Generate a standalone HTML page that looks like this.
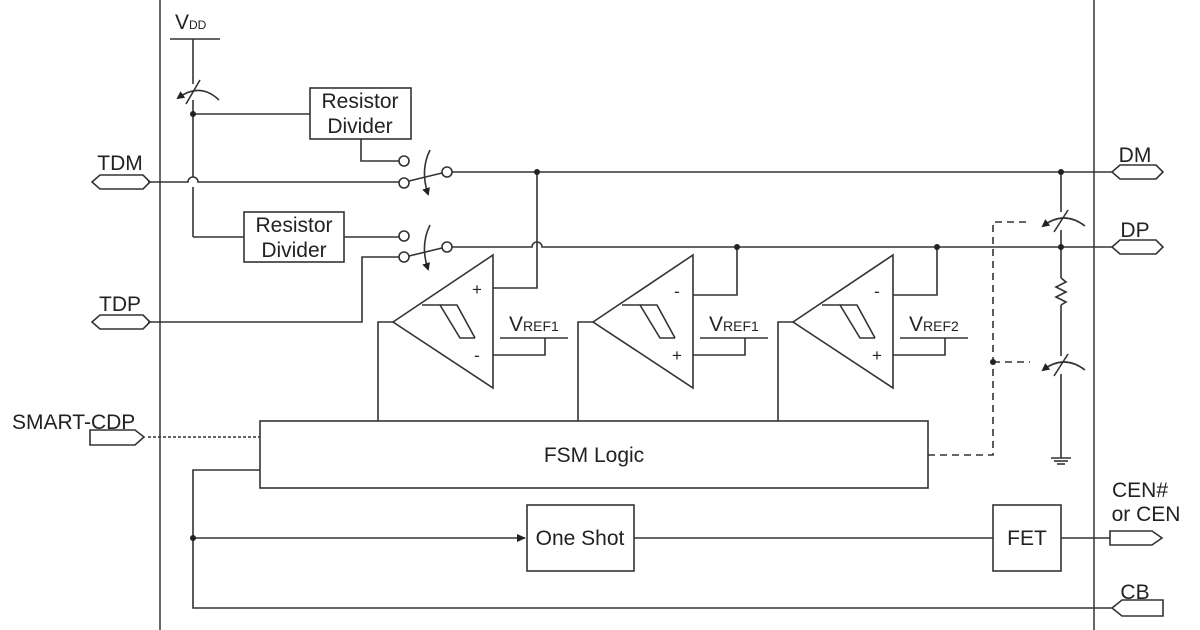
<!DOCTYPE html>
<html><head><meta charset="utf-8"><style>
html,body{margin:0;padding:0;background:#fff;width:1200px;height:630px;overflow:hidden}
svg{display:block}
text{font-family:"Liberation Sans",Arial,sans-serif;fill:#222}
</style></head><body>
<svg width="1200" height="630" viewBox="0 0 1200 630" xmlns="http://www.w3.org/2000/svg">
<defs>
<marker id="ar" markerWidth="10" markerHeight="10" refX="8" refY="5" orient="auto" markerUnits="userSpaceOnUse"><path d="M0,1 L9,5 L0,9 Z" fill="#222"/></marker>
<marker id="ar2" markerWidth="10" markerHeight="10" refX="6" refY="5" orient="auto" markerUnits="userSpaceOnUse"><path d="M0,1 L8,5 L0,9 Z" fill="#222"/></marker>
</defs>
<g stroke="#333" stroke-width="1.6" fill="none">
<line x1="160" y1="0" x2="160" y2="630" stroke="#444"/>
<line x1="1094" y1="0" x2="1094" y2="630" stroke="#666" stroke-width="2"/>
<line x1="170" y1="39" x2="220" y2="39"/>
<line x1="193" y1="39" x2="193" y2="84"/>
<line x1="193" y1="100" x2="193" y2="177"/>
<line x1="193" y1="187" x2="193" y2="237"/>
<line x1="193" y1="237" x2="244" y2="237"/>
<line x1="193" y1="114" x2="310" y2="114"/>
<line x1="186" y1="104" x2="200" y2="80"/>
<path d="M219,100 Q200,82 178,98" marker-end="url(#ar2)"/>
<rect x="310" y="88" width="101" height="51"/>
<rect x="244" y="212" width="100" height="50"/>
<polyline points="361,139 361,161 399,161"/>
<line x1="344" y1="237" x2="399" y2="237"/>
<path d="M148,182 L188,182 A5,5 0 0 1 198,182 L399,182"/>
<polyline points="148,322 362,322 362,257 399,257"/>
<line x1="409" y1="181" x2="442" y2="173"/>
<line x1="409" y1="256" x2="442" y2="248"/>
<path d="M430,150 Q420,170 428,194" marker-end="url(#ar2)"/>
<path d="M430,225 Q420,245 428,269" marker-end="url(#ar2)"/>
<line x1="452" y1="172" x2="1112" y2="172"/>
<path d="M452,247 L532,247 A5,5 0 0 1 542,247 L1112,247"/>
<polygon points="393,322 493,255 493,388"/>
<polygon points="593,322 693,255 693,388"/>
<polygon points="793,322 893,255 893,388"/>
<polyline points="422,305 440,305 460,338 475,338"/><polyline points="440,305 457,305 475,338"/>
<polyline points="622,305 640,305 660,338 675,338"/><polyline points="640,305 657,305 675,338"/>
<polyline points="822,305 840,305 860,338 875,338"/><polyline points="840,305 857,305 875,338"/>
<polyline points="493,288 537,288 537,172"/>
<polyline points="493,355 545,355 545,338"/>
<line x1="500" y1="338" x2="568" y2="338"/>
<polyline points="693,295 737,295 737,247"/>
<polyline points="693,355 745,355 745,338"/>
<line x1="700" y1="338" x2="768" y2="338"/>
<polyline points="893,295 937,295 937,247"/>
<polyline points="893,355 945,355 945,338"/>
<line x1="900" y1="338" x2="968" y2="338"/>
<polyline points="393,322 378,322 378,421"/>
<polyline points="593,322 578,322 578,421"/>
<polyline points="793,322 778,322 778,421"/>
<rect x="260" y="421" width="668" height="67"/>
<line x1="1061" y1="172" x2="1061" y2="212"/>
<line x1="1054" y1="232" x2="1068" y2="210"/>
<path d="M1085,226 Q1064,210 1043,226" marker-end="url(#ar2)"/>
<line x1="1061" y1="230" x2="1061" y2="278"/>
<polyline points="1061,278 1066,282 1056,287 1066,292 1056,297 1066,302 1061,305"/>
<line x1="1061" y1="305" x2="1061" y2="356"/>
<line x1="1054" y1="376" x2="1068" y2="354"/>
<path d="M1085,370 Q1064,354 1043,370" marker-end="url(#ar2)"/>
<line x1="1061" y1="374" x2="1061" y2="458"/>
<line x1="1051" y1="458" x2="1071" y2="458"/>
<line x1="1054" y1="461" x2="1068" y2="461"/>
<line x1="1057" y1="464" x2="1065" y2="464"/>
<polyline points="260,470 193,470 193,608 1112,608"/>
<line x1="193" y1="538" x2="525" y2="538" marker-end="url(#ar)"/>
<rect x="527" y="505" width="107" height="66"/>
<line x1="634" y1="538" x2="993" y2="538"/>
<rect x="993" y="505" width="68" height="66"/>
<line x1="1061" y1="538" x2="1110" y2="538"/>
<polygon points="92,182 100,175 143,175 150,182 143,189 100,189"/>
<polygon points="92,322 100,315 143,315 150,322 143,329 100,329"/>
<polygon points="1112,172 1120,165 1156,165 1163,172 1156,179 1120,179"/>
<polygon points="1112,247 1120,240 1156,240 1163,247 1156,254 1120,254"/>
<polygon points="90,430 135,430 144,437 135,445 90,445"/>
<polygon points="1110,531 1152,531 1162,538 1152,545 1110,545"/>
<polygon points="1112,608 1122,600 1163,600 1163,616 1122,616"/>
</g>
<g stroke="#333" stroke-width="1.6" fill="none" stroke-dasharray="7,5">
<line x1="148" y1="437" x2="260" y2="437" stroke-dasharray="3,2"/>
<polyline points="928,455 993,455 993,222 1030,222"/>
<line x1="993" y1="362" x2="1030" y2="362"/>
</g>
<g stroke="#333" stroke-width="1.6" fill="#fff">
<circle cx="404" cy="161" r="5"/><circle cx="404" cy="183" r="5"/><circle cx="447" cy="172" r="5"/>
<circle cx="404" cy="236" r="5"/><circle cx="404" cy="257" r="5"/><circle cx="447" cy="247" r="5"/>
</g>
<g fill="#222">
<circle cx="193" cy="114" r="3"/><circle cx="537" cy="172" r="3"/><circle cx="1061" cy="172" r="3"/>
<circle cx="737" cy="247" r="3"/><circle cx="937" cy="247" r="3"/><circle cx="1061" cy="247" r="3"/>
<circle cx="993" cy="362" r="3"/><circle cx="193" cy="538" r="3"/>
</g>
<g font-size="21">
<text x="175" y="29">V<tspan font-size="12">DD</tspan></text>
<text x="360" y="108" text-anchor="middle">Resistor</text>
<text x="360" y="133" text-anchor="middle">Divider</text>
<text x="294" y="232" text-anchor="middle">Resistor</text>
<text x="294" y="257" text-anchor="middle">Divider</text>
<text x="120" y="170" text-anchor="middle">TDM</text>
<text x="120" y="311" text-anchor="middle">TDP</text>
<text x="12" y="429">SMART-CDP</text>
<text x="1135" y="162" text-anchor="middle">DM</text>
<text x="1135" y="237" text-anchor="middle">DP</text>
<text x="1140" y="497" text-anchor="middle">CEN#</text>
<text x="1146" y="521" text-anchor="middle">or CEN</text>
<text x="1135" y="599" text-anchor="middle">CB</text>
<text x="594" y="462" text-anchor="middle">FSM Logic</text>
<text x="580" y="545" text-anchor="middle">One Shot</text>
<text x="1027" y="545" text-anchor="middle">FET</text>
<text x="509" y="331">V<tspan font-size="14">REF1</tspan></text>
<text x="709" y="331">V<tspan font-size="14">REF1</tspan></text>
<text x="909" y="331">V<tspan font-size="14">REF2</tspan></text>
<text x="472" y="295" font-size="17">+</text>
<text x="474" y="361" font-size="17">-</text>
<text x="674" y="297" font-size="17">-</text>
<text x="672" y="361" font-size="17">+</text>
<text x="874" y="297" font-size="17">-</text>
<text x="872" y="361" font-size="17">+</text>
</g>
</svg>
</body></html>
